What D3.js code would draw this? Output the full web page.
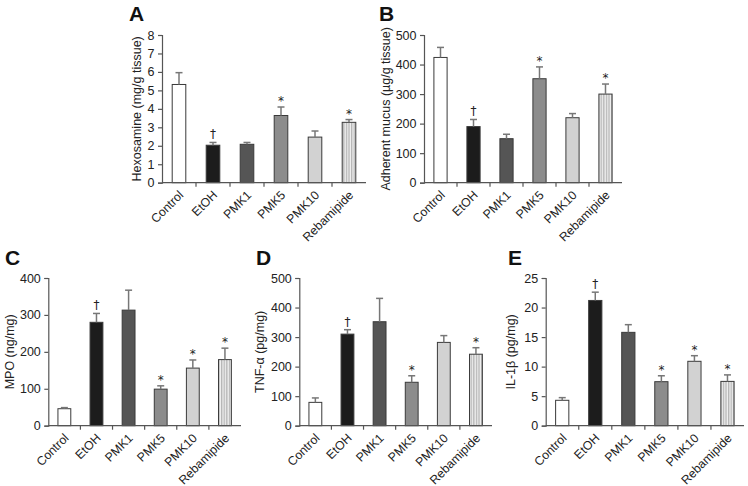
<!DOCTYPE html>
<html><head><meta charset="utf-8">
<script src="https://cdn.jsdelivr.net/npm/d3@7"></script>
<style>
body{margin:0;background:#fff;}
svg{display:block;font-family:"Liberation Sans",Arial,Helvetica,sans-serif;}
</style></head>
<body><svg id="c" width="748" height="486"></svg>
<script>
const categories = ["Control","EtOH","PMK1","PMK5","PMK10","Rebamipide"];

const hexMean = [5.32, 2.03, 2.08, 3.64, 2.47, 3.27];
const hexErr  = [5.96, 2.18, 2.18, 4.10, 2.80, 3.42];
const hexMark = ["", "†", "", "*", "", "*"];

const mucMean = [424, 190, 149, 352, 220, 300];
const mucErr  = [458, 214, 164, 392, 234, 334];
const mucMark = ["", "†", "", "*", "", "*"];

const mpoMean = [46, 280, 313, 99, 156, 179];
const mpoErr  = [49, 304, 367, 108, 178, 210];
const mpoMark = ["", "†", "", "*", "*", "*"];

const tnfMean = [79, 310, 352, 147, 282, 242];
const tnfErr  = [94, 325, 431, 169, 305, 264];
const tnfMark = ["", "†", "", "*", "", "*"];

const ilMean = [4.3, 21.2, 15.8, 7.45, 10.9, 7.5];
const ilErr  = [4.75, 22.6, 17.1, 8.45, 11.85, 8.6];
const ilMark = ["", "†", "", "*", "*", "*"];

const hexTicks = [0,1,2,3,4,5,6,7,8];
const mucTicks = [0,100,200,300,400,500];
const mpoTicks = [0,100,200,300,400];
const tnfTicks = [0,100,200,300,400,500];
const ilTicks  = [0,5,10,15,20,25];

const panels = [
  {letter:"A", ylabel:"Hexosamine (mg/g tissue)", mean:hexMean, err:hexErr, mark:hexMark, ticks:hexTicks,
   x0:162, x1:366, yT:35, yB:182.7, lx:129, ly:21, ylx:137},
  {letter:"B", ylabel:"Adherent mucus (µg/g tissue)", mean:mucMean, err:mucErr, mark:mucMark, ticks:mucTicks,
   x0:424, x1:622, yT:35, yB:182.7, lx:379, ly:21, ylx:386},
  {letter:"C", ylabel:"MPO (ng/mg)", mean:mpoMean, err:mpoErr, mark:mpoMark, ticks:mpoTicks,
   x0:48.3, x1:241, yT:278, yB:425.7, lx:5, ly:265, ylx:10},
  {letter:"D", ylabel:"TNF-α (pg/mg)", mean:tnfMean, err:tnfErr, mark:tnfMark, ticks:tnfTicks,
   x0:299.3, x1:492, yT:278, yB:425.7, lx:256, ly:265, ylx:260},
  {letter:"E", ylabel:"IL-1β (pg/mg)", mean:ilMean, err:ilErr, mark:ilMark, ticks:ilTicks,
   x0:545.7, x1:744, yT:278, yB:425.7, lx:508, ly:265, ylx:511}
];

const fills = ["#ffffff","#1c1c1c","#555555","#8c8c8c","#d2d2d2","url(#stripes)"];
const svg = d3.select("#c");
const defs = svg.append("defs");
const pat = defs.append("pattern").attr("id","stripes").attr("patternUnits","userSpaceOnUse")
  .attr("width",2.6).attr("height",10);
pat.append("rect").attr("width",2.6).attr("height",10).attr("fill","#f0f0f0");
pat.append("rect").attr("x",0).attr("width",1.3).attr("height",10).attr("fill","#b5b5b5");

const axisCol = "#555";

panels.forEach(p => {
  const g = svg.append("g");
  const x = d3.scaleBand().domain(categories).range([p.x0, p.x1]).paddingInner(0.6).paddingOuter(0.3);
  const ymax = p.ticks[p.ticks.length-1];
  const y = d3.scaleLinear().domain([0, ymax]).range([p.yB, p.yT]);

  // bars
  g.selectAll("rect.bar").data(categories).join("rect")
    .attr("x", d => x(d)).attr("width", x.bandwidth())
    .attr("y", (d,i) => y(p.mean[i])).attr("height", (d,i) => p.yB - y(p.mean[i]))
    .attr("fill", (d,i) => fills[i]).attr("stroke", "#3a3a3a").attr("stroke-width", 1);

  // error bars
  categories.forEach((c,i) => {
    const cx = x(c) + x.bandwidth()/2;
    g.append("line").attr("x1",cx).attr("x2",cx).attr("y1",y(p.mean[i])).attr("y2",y(p.err[i]))
      .attr("stroke","#777").attr("stroke-width",1.5);
    g.append("line").attr("x1",cx-3.5).attr("x2",cx+3.5).attr("y1",y(p.err[i])).attr("y2",y(p.err[i]))
      .attr("stroke","#777").attr("stroke-width",1.5);
    if (p.mark[i]) {
      g.append("text")
        .attr("transform", `translate(${cx},${y(p.err[i]) - (p.mark[i]==="*" ? 2 : 4)}) rotate(0.01)`)
        .attr("text-anchor","middle").attr("font-size", 12)
        .attr("font-family","'DejaVu Sans','Liberation Sans',sans-serif")
        .attr("fill","#222").text(p.mark[i]);
    }
  });

  // y axis
  const ya = g.append("g").attr("transform",`translate(${p.x0},0)`)
    .call(d3.axisLeft(y).tickValues(p.ticks).tickSize(4).tickPadding(3.5).tickFormat(d3.format("d")));
  ya.select(".domain").attr("stroke",axisCol).attr("stroke-width",1.2);
  ya.selectAll(".tick line").attr("stroke",axisCol).attr("stroke-width",1.2);
  ya.selectAll("text").attr("font-size",12.5).attr("fill","#222").attr("font-family","inherit");

  // x axis
  const xa = g.append("g").attr("transform",`translate(0,${p.yB})`);
  xa.append("line").attr("x1",p.x0).attr("x2",p.x1).attr("stroke",axisCol).attr("stroke-width",1.2);
  const step = x.step();
  d3.range(1, categories.length).forEach(k => {
    xa.append("line").attr("x1",p.x0+k*step).attr("x2",p.x0+k*step).attr("y1",0).attr("y2",4)
      .attr("stroke",axisCol).attr("stroke-width",1.2);
  });
  xa.selectAll("text.xl").data(categories).join("text")
    .attr("transform", d => `translate(${x(d)+x.bandwidth()/2-1},7) rotate(-45)`)
    .attr("text-anchor","end").attr("dy","0.7em").attr("font-size",12.3).attr("fill","#222").text(d=>d);

  // y label
  g.append("text").attr("transform",`translate(${p.ylx},${(p.yT+p.yB)/2}) rotate(-90)`)
    .attr("text-anchor","middle").attr("dy","0.35em").attr("font-size",12.5).attr("fill","#222").text(p.ylabel);

  // panel letter
  g.append("text").attr("x",p.lx).attr("y",p.ly).attr("font-size",21).attr("font-weight","bold")
    .attr("fill","#111").text(p.letter);
});
</script></body></html>
